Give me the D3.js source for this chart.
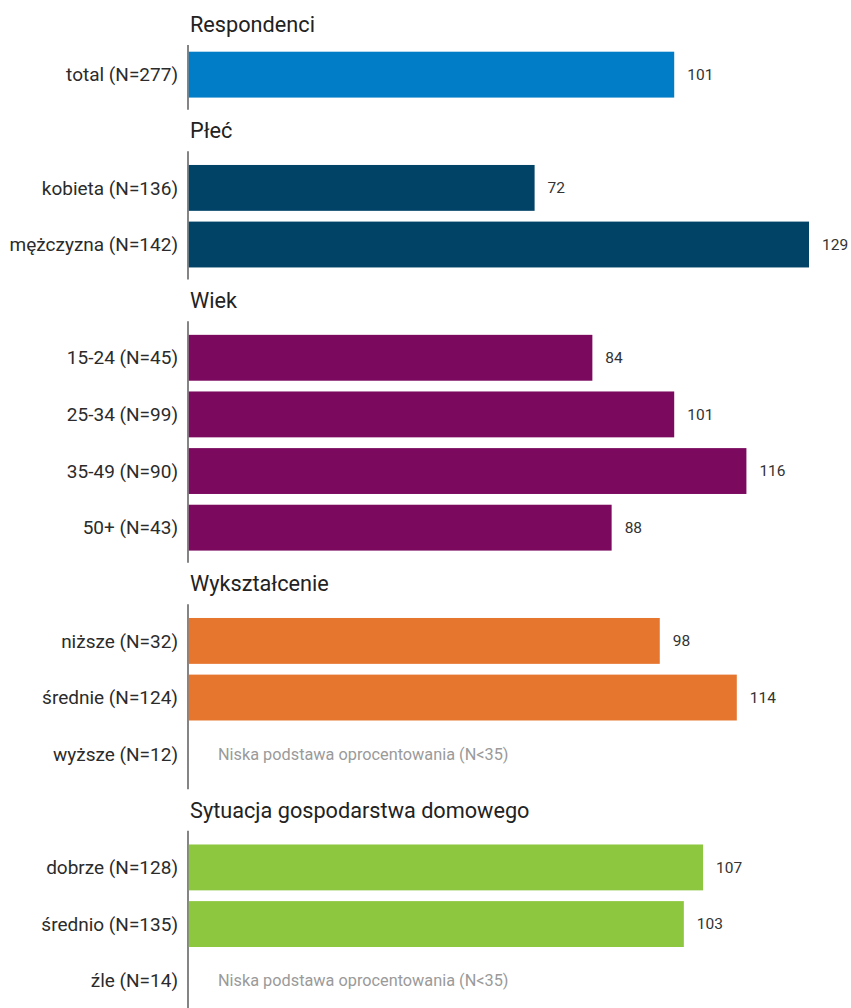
<!DOCTYPE html>
<html lang="pl">
<head>
<meta charset="utf-8">
<script src="https://cdn.jsdelivr.net/npm/d3@7"></script>
<style>
  html, body { margin: 0; padding: 0; background: #fff; }
  svg { display: block; font-family: Roboto, "Noto Sans", sans-serif; }
</style>
</head>
<body>
<svg id="chart" width="851" height="1008"></svg>
<script>
// Section headings and their bar colours
const sections = ["Respondenci", "Płeć", "Wiek", "Wykształcenie", "Sytuacja gospodarstwa domowego"];
const sectionColors = ["#007DC6", "#004366", "#7B0A5F", "#E6752D", "#8DC63F"];

// Row labels, the section each row belongs to, and the index values
const categories = [
  "total (N=277)",
  "kobieta (N=136)", "mężczyzna (N=142)",
  "15-24 (N=45)", "25-34 (N=99)", "35-49 (N=90)", "50+ (N=43)",
  "niższe (N=32)", "średnie (N=124)", "wyższe (N=12)",
  "dobrze (N=128)", "średnio (N=135)", "źle (N=14)"
];
const sectionOf = [0, 1, 1, 2, 2, 2, 2, 3, 3, 3, 4, 4, 4];
const values = [101, 72, 129, 84, 101, 116, 88, 98, 114, null, 107, 103, null];

// Shown instead of a bar when the base is too small
const lowBaseNote = "Niska podstawa oprocentowania (N<35)";

const svg = d3.select("#chart");

// One vertical slot per heading and per row
const slots = [];
sections.forEach((s, si) => {
  slots.push({ key: "h" + si, type: "header", section: si });
  categories.forEach((c, ci) => {
    if (sectionOf[ci] === si) slots.push({ key: "r" + ci, type: "row", section: si, index: ci });
  });
});

const y = d3.scaleBand()
  .domain(slots.map(d => d.key))
  .range([-10.3, 1009])
  .paddingInner(0.19)
  .paddingOuter(0.095);

const x = d3.scaleLinear()
  .domain([0, d3.max(values)])
  .range([188, 809]);

const cy = key => y(key) + y.bandwidth() / 2;
const x0 = x(0);

// Headings
const headerBaseline = si => Math.max(cy("h" + si) + 7, 32);

svg.append("g").selectAll("text")
  .data(sections)
  .join("text")
  .attr("x", x0 + 2)
  .attr("y", (d, i) => headerBaseline(i))
  .attr("font-size", 21.7)
  .attr("fill", "#222")
  .text(d => d);

// Vertical axis segment for each section
svg.append("g").selectAll("line")
  .data(sections)
  .join("line")
  .attr("x1", x0).attr("x2", x0)
  .attr("y1", (d, i) => headerBaseline(i) + 13)
  .attr("y2", (d, i) => {
    const rows = categories.map((c, ci) => ci).filter(ci => sectionOf[ci] === i);
    return cy("r" + rows[rows.length - 1]) + 35;
  })
  .attr("stroke", "#666")
  .attr("stroke-width", 1.6);

const rows = categories.map((c, i) => ({ label: c, value: values[i], section: sectionOf[i], key: "r" + i }));

// Bars
svg.append("g").selectAll("rect")
  .data(rows.filter(d => d.value != null))
  .join("rect")
  .attr("x", x0 + 0.8)
  .attr("y", d => y(d.key))
  .attr("width", d => x(d.value) - x0 - 0.8)
  .attr("height", y.bandwidth())
  .attr("fill", d => sectionColors[d.section]);

// Row labels
svg.append("g").selectAll("text")
  .data(rows)
  .join("text")
  .attr("x", 178)
  .attr("y", d => cy(d.key))
  .attr("dy", "0.35em")
  .attr("text-anchor", "end")
  .attr("font-size", 19)
  .attr("fill", "#2b2b2b")
  .text(d => d.label);

// Value labels
svg.append("g").selectAll("text")
  .data(rows.filter(d => d.value != null))
  .join("text")
  .attr("x", d => x(d.value) + 13)
  .attr("y", d => cy(d.key))
  .attr("dy", "0.35em")
  .attr("font-size", 15.5)
  .attr("fill", "#333")
  .text(d => d.value);

// Low-base notes
svg.append("g").selectAll("text")
  .data(rows.filter(d => d.value == null))
  .join("text")
  .attr("x", x0 + 30)
  .attr("y", d => cy(d.key))
  .attr("dy", "0.35em")
  .attr("font-size", 16.3)
  .attr("fill", "#9a9a9a")
  .text(lowBaseNote);
</script>
</body>
</html>
